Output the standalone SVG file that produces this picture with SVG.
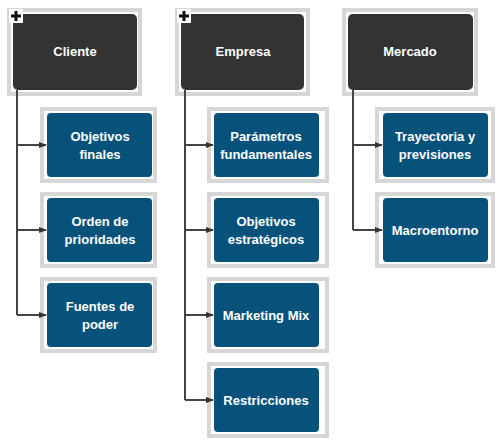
<svg xmlns="http://www.w3.org/2000/svg" width="500" height="448" viewBox="0 0 500 448">
<defs>
<style>
.frame{fill:#ffffff;stroke:#d6d6d6;stroke-width:4}
.root{fill:#333333}
.leaf{fill:#07527a}
.t{fill:#ffffff;font-family:"Liberation Sans",Arial,sans-serif;font-weight:bold;font-size:13px;text-anchor:middle}
.conn{fill:none;stroke:#444444;stroke-width:2}
.plusbg{fill:#ffffff}
.plus{fill:#111111}
</style>
<marker id="arr" viewBox="0 0 10 10" refX="9" refY="5" markerWidth="4" markerHeight="4" orient="auto" markerUnits="strokeWidth">
<path d="M0,1 L10,5 L0,9 Z" fill="#333333"/>
</marker>
</defs>
<rect width="500" height="448" fill="#ffffff"/>

<g id="cliente">
<rect class="frame" x="9" y="10" width="131" height="84"/>
<rect class="root" x="13" y="14" width="124" height="76" rx="5"/>
<rect class="plusbg" x="9" y="9" width="14" height="14"/>
<rect class="plus" x="11" y="14.5" width="10" height="3"/>
<rect class="plus" x="14.5" y="11" width="3" height="10"/>
<text class="t" x="75" y="56">Cliente</text>
</g>
<g id="empresa">
<rect class="frame" x="177" y="10" width="131" height="84"/>
<rect class="root" x="181" y="14" width="123" height="76" rx="5"/>
<rect class="plusbg" x="177" y="9" width="14" height="14"/>
<rect class="plus" x="179" y="14.5" width="10" height="3"/>
<rect class="plus" x="182.5" y="11" width="3" height="10"/>
<text class="t" x="243" y="56">Empresa</text>
</g>
<g id="mercado">
<rect class="frame" x="344" y="10" width="132" height="84"/>
<rect class="root" x="348" y="14" width="125" height="76" rx="5"/>
<text class="t" x="410" y="56">Mercado</text>
</g>

<g id="objetivos-finales">
<rect class="frame" x="42" y="109" width="113" height="72"/>
<rect class="leaf" x="47" y="113" width="105" height="64" rx="4"/>
<text class="t" x="100" y="141">Objetivos</text>
<text class="t" x="100" y="159">finales</text>
</g>
<g id="orden-prioridades">
<rect class="frame" x="42" y="194" width="113" height="72"/>
<rect class="leaf" x="47" y="198" width="105" height="64" rx="4"/>
<text class="t" x="100" y="226">Orden de</text>
<text class="t" x="100" y="244">prioridades</text>
</g>
<g id="fuentes-poder">
<rect class="frame" x="42" y="279" width="113" height="72"/>
<rect class="leaf" x="47" y="283" width="105" height="64" rx="4"/>
<text class="t" x="100" y="311">Fuentes de</text>
<text class="t" x="100" y="329">poder</text>
</g>

<g id="parametros">
<rect class="frame" x="209" y="109" width="118" height="72"/>
<rect class="leaf" x="214" y="113" width="105" height="64" rx="4"/>
<text class="t" x="266" y="141">Parámetros</text>
<text class="t" x="266" y="159">fundamentales</text>
</g>
<g id="objetivos-estrategicos">
<rect class="frame" x="209" y="194" width="118" height="72"/>
<rect class="leaf" x="214" y="198" width="105" height="64" rx="4"/>
<text class="t" x="266" y="226">Objetivos</text>
<text class="t" x="266" y="244">estratégicos</text>
</g>
<g id="marketing-mix">
<rect class="frame" x="209" y="279" width="118" height="72"/>
<rect class="leaf" x="214" y="283" width="105" height="64" rx="4"/>
<text class="t" x="266" y="320">Marketing Mix</text>
</g>
<g id="restricciones">
<rect class="frame" x="209" y="364" width="118" height="72"/>
<rect class="leaf" x="214" y="368" width="105" height="64" rx="4"/>
<text class="t" x="266" y="405">Restricciones</text>
</g>

<g id="trayectoria">
<rect class="frame" x="377" y="109" width="116" height="72"/>
<rect class="leaf" x="383" y="113" width="105" height="64" rx="4"/>
<text class="t" x="435" y="141">Trayectoria y</text>
<text class="t" x="435" y="159">previsiones</text>
</g>
<g id="macroentorno">
<rect class="frame" x="377" y="194" width="116" height="72"/>
<rect class="leaf" x="383" y="198" width="105" height="64" rx="4"/>
<text class="t" x="435" y="235">Macroentorno</text>
</g>

<g id="connectors">
<path class="conn" d="M17,90 V315"/>
<path class="conn" d="M17,145 H46" marker-end="url(#arr)"/>
<path class="conn" d="M17,230 H46" marker-end="url(#arr)"/>
<path class="conn" d="M17,315 H46" marker-end="url(#arr)"/>
<path class="conn" d="M185,90 V400"/>
<path class="conn" d="M185,145 H213" marker-end="url(#arr)"/>
<path class="conn" d="M185,230 H213" marker-end="url(#arr)"/>
<path class="conn" d="M185,315 H213" marker-end="url(#arr)"/>
<path class="conn" d="M185,400 H213" marker-end="url(#arr)"/>
<path class="conn" d="M353,90 V230"/>
<path class="conn" d="M353,145 H382" marker-end="url(#arr)"/>
<path class="conn" d="M353,230 H382" marker-end="url(#arr)"/>
</g>
</svg>
